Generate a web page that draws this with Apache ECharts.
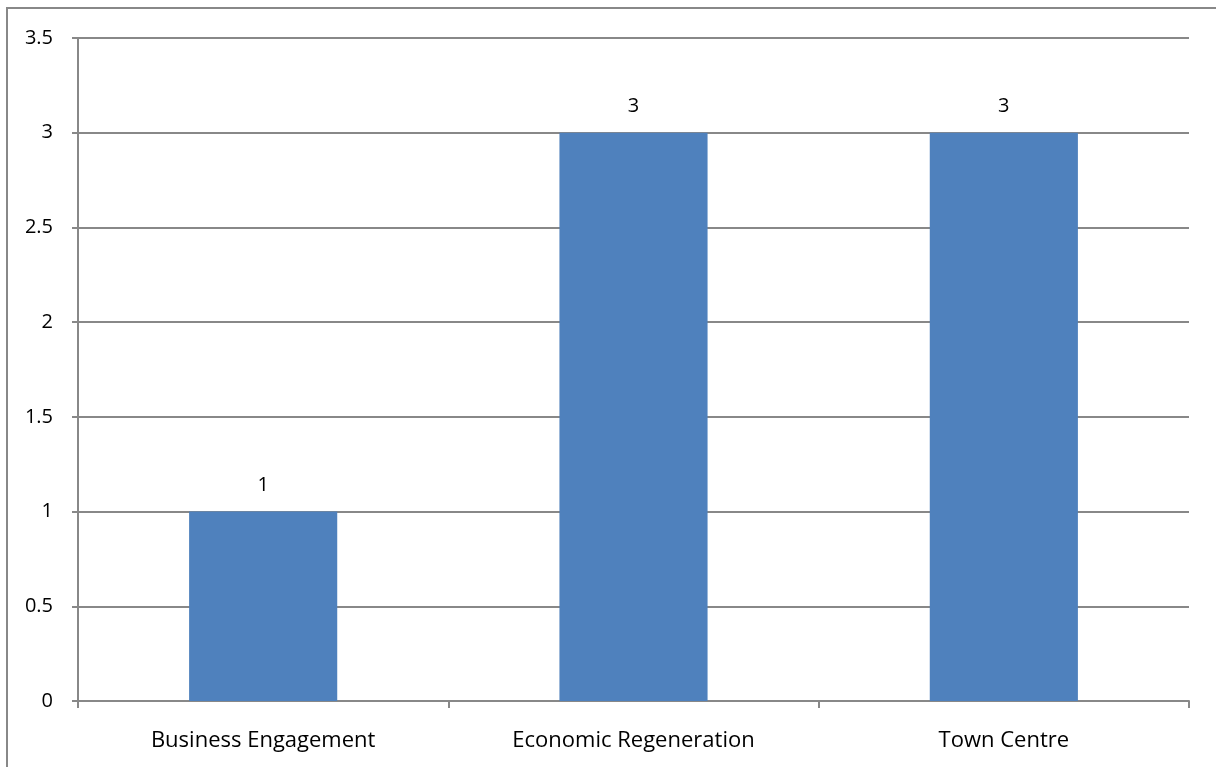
<!DOCTYPE html>
<html><head><meta charset="utf-8">
<script src="https://cdn.jsdelivr.net/npm/echarts@6/dist/echarts.min.js"></script>
<style>html,body{margin:0;padding:0;background:#fff}#c{width:1216px;height:767px}</style>
</head><body><div id="c"></div>
<script>
var categories = ["Business Engagement", "Economic Regeneration", "Town Centre"];
var values = [1, 3, 3];
var yTicks = [0, 0.5, 1, 1.5, 2, 2.5, 3, 3.5];

var chart = echarts.init(document.getElementById('c'), null, {renderer: 'canvas'});
var font = '"Open Sans", sans-serif';
chart.setOption({
  animation: false,
  backgroundColor: '#fff',
  graphic: [{type: 'rect', shape: {x: 7, y: 8, width: 1240, height: 800}, style: {fill: 'none', stroke: '#888', lineWidth: 2}, silent: true}],
  grid: {left: 78, right: 27, top: 38, bottom: 66, containLabel: false},
  xAxis: {
    type: 'category', data: categories,
    axisLine: {lineStyle: {color: '#888', width: 2}},
    axisTick: {show: true, length: 7, lineStyle: {color: '#888', width: 2}},
    axisLabel: {color: '#000', fontSize: 22, fontFamily: font, margin: 29},
    splitLine: {show: false}
  },
  yAxis: {
    type: 'value', min: 0, max: 3.5, interval: 0.5,
    axisLine: {show: true, lineStyle: {color: '#888', width: 2}},
    axisTick: {show: true, length: 6, lineStyle: {color: '#888', width: 2}},
    axisLabel: {color: '#000', fontSize: 20, fontFamily: font, margin: 25, formatter: function (v) { return String(v); }},
    splitLine: {show: true, lineStyle: {color: '#888', width: 2}}
  },
  series: [{
    type: 'bar', data: values, barWidth: '40%',
    itemStyle: {color: '#4F81BD'},
    label: {show: true, position: 'top', color: '#000', fontSize: 20, fontFamily: font, distance: 16}
  }]
});
</script></body></html>
